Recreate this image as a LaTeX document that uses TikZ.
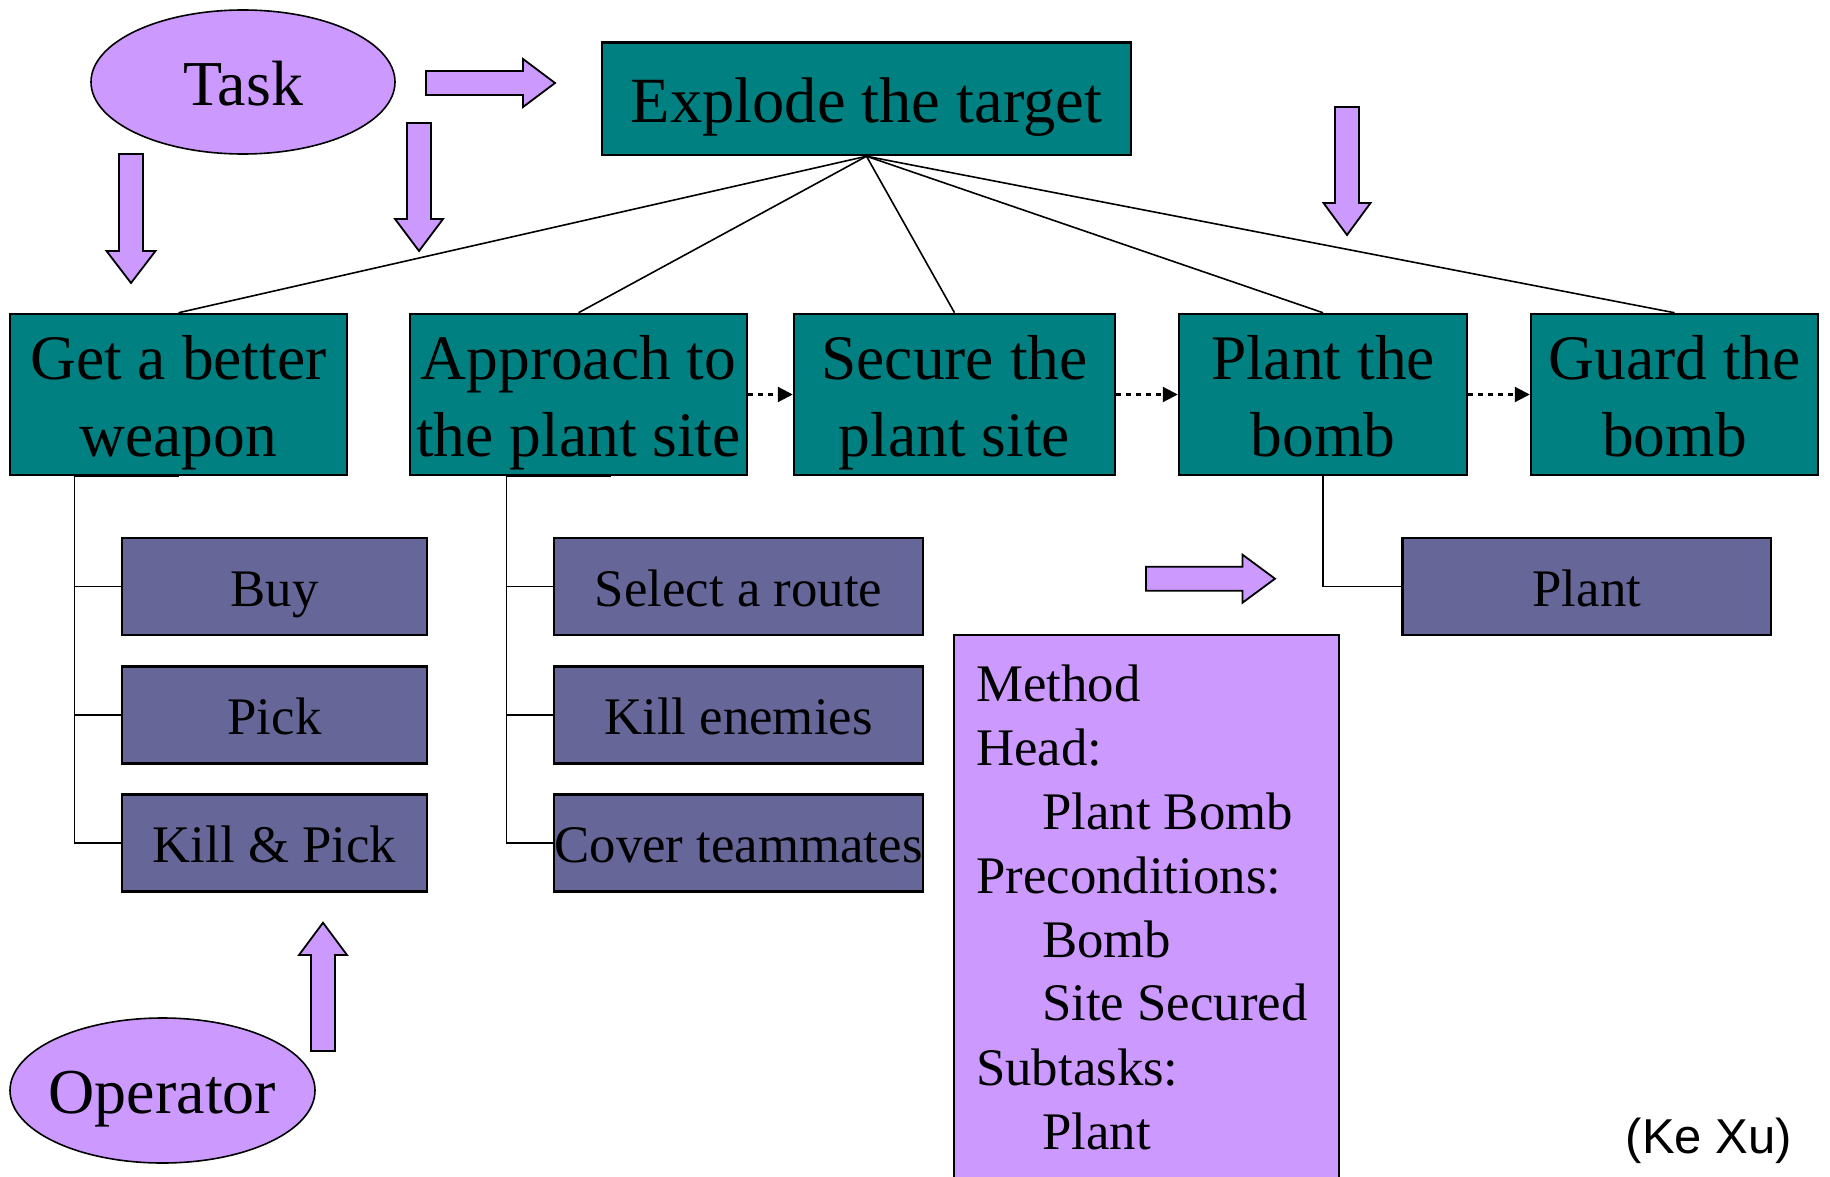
\documentclass[tikz,border=0pt]{standalone}
\usepackage{fontspec}
\setmainfont{Liberation Serif}
\newfontfamily\creditfont{Liberation Sans}
\usetikzlibrary{shapes.geometric,arrows.meta}

\definecolor{goalteal}{RGB}{0,128,128}
\definecolor{opslate}{RGB}{102,102,153}
\definecolor{hintlilac}{RGB}{204,153,255}

% vertical block arrow: centre x, start y, head base y, tip y, half shaft, half head
\newcommand{\vblockarrow}[6]{%
  \draw[blockarrow] (#1-#5,#2) -- (#1+#5,#2) -- (#1+#5,#3) -- (#1+#6,#3) -- (#1,#4)
    -- (#1-#6,#3) -- (#1-#5,#3) -- cycle;}
% horizontal block arrow: centre y, start x, head base x, tip x, half shaft, half head
\newcommand{\hblockarrow}[6]{%
  \draw[blockarrow] (#2,#1-#5) -- (#3,#1-#5) -- (#3,#1-#6) -- (#4,#1) -- (#3,#1+#6)
    -- (#3,#1+#5) -- (#2,#1+#5) -- cycle;}

\tikzset{
  rootbox/.style={draw=black, line width=2.5pt, fill=goalteal, inner sep=0pt,
    minimum width=529pt, minimum height=112.7pt,
    font=\fontsize{64.5}{78}\selectfont, text height=48pt, text depth=0pt},
  goalbox/.style={draw=black, line width=2.5pt, fill=goalteal, inner sep=0pt,
    minimum height=161pt, align=center,
    font=\fontsize{63.5}{76.5}\selectfont, text height=123pt, text depth=0pt},
  opbox/.style={draw=black, line width=2.5pt, fill=opslate, inner sep=0pt,
    minimum height=97pt, font=\fontsize{52.8}{64}\selectfont,
    text height=39pt, text depth=0pt},
  oval/.style={ellipse, draw=black, line width=1.6pt, fill=hintlilac, inner sep=0pt},
  ovaltext/.style={inner sep=0pt, font=\fontsize{64}{77}\selectfont,
    text height=47pt, text depth=0pt},
  methodbox/.style={draw=black, line width=2.5pt, fill=hintlilac, inner sep=0pt,
    minimum width=385pt, minimum height=565pt},
  methodline/.style={anchor=base west, inner sep=0pt, font=\fontsize{52.8}{64}\selectfont},
  blockarrow/.style={draw=black, line width=1.8pt, fill=hintlilac, line join=miter},
  branch/.style={draw=black, line width=1.6pt},
  tree/.style={draw=black, line width=1.6pt},
  seq/.style={draw=black, line width=2.2pt, dash pattern=on 5pt off 5pt,
    -{Triangle[length=15pt,width=15pt]}},
}

\begin{document}
\begin{tikzpicture}[x=1pt,y=-1pt]
\useasboundingbox (0,0) rectangle (1830,1177);
\clip (0,0) rectangle (1830,1177);

% root task and its decomposition
\node[rootbox] (explode) at (866.5,98.65) {Explode the target};

\node[goalbox, minimum width=337pt] (get)       at (178.5,394.5) {Get a better\\weapon};
\node[goalbox, minimum width=337pt] (approach)  at (578.5,394.5) {Approach to\\the plant site};
\node[goalbox, minimum width=321pt] (secure)    at (954.5,394.5) {Secure the\\plant site};
\node[goalbox, minimum width=288pt] (plantbomb) at (1323,394.5)  {Plant the\\bomb};
\node[goalbox, minimum width=287pt] (guard)     at (1674.5,394.5) {Guard the\\bomb};

\foreach \g in {get,approach,secure,plantbomb,guard}
  \draw[branch] (explode.south) -- (\g.north);

\draw[seq] (approach.east) -- (secure.west);
\draw[seq] (secure.east) -- (plantbomb.west);
\draw[seq] (plantbomb.east) -- (guard.west);

% operators
\node[opbox, minimum width=305pt] (buy)      at (274.5,586.5) {Buy};
\node[opbox, minimum width=305pt] (pick)     at (274.5,715)   {Pick};
\node[opbox, minimum width=305pt] (killpick) at (274.5,843)   {Kill \& Pick};

\node[opbox, minimum width=369pt] (route)   at (738.5,586.5) {Select a route};
\node[opbox, minimum width=369pt] (enemies) at (738.5,715)   {Kill enemies};
\node[opbox, minimum width=369pt] (cover)   at (738.5,843)   {Cover teammates};

\node[opbox, minimum width=368.4pt] (plant) at (1586.8,586.5) {Plant};

% org-chart style connectors
\coordinate (gbus) at (74.5,476);
\draw[tree] (get.south |- gbus) -- (gbus) |- (killpick.west);
\draw[tree] (gbus) |- (buy.west);
\draw[tree] (gbus) |- (pick.west);

\coordinate (abus) at (506.5,476);
\coordinate (aend) at (611,476);
\draw[tree] (aend) -- (abus) |- (cover.west);
\draw[tree] (abus) |- (route.west);
\draw[tree] (abus) |- (enemies.west);

\draw[tree] (plantbomb.south) |- (plant.west);

% task and operator ovals
\node[oval, minimum width=304pt, minimum height=144pt,
      label={[ovaltext, name=task-text]center:Task}] (task) at (243,82) {};
\node[oval, minimum width=305pt, minimum height=145pt,
      label={[ovaltext, text height=45pt, name=operator-text]center:Operator}] (operator) at (162.5,1090.5) {};

% method description
\node[methodbox] (method) at (1146.5,917.5) {};
\node[methodline] (m1) at (976,701)  {Method};
\node[methodline] (m2) at (976,765)  {Head:};
\node[methodline] (m3) at (1042,829) {Plant Bomb};
\node[methodline] (m4) at (976,893)  {Preconditions:};
\node[methodline] (m5) at (1042,957) {Bomb};
\node[methodline] (m6) at (1042,1020) {Site Secured};
\node[methodline] (m7) at (976,1085) {Subtasks:};
\node[methodline] (m8) at (1042,1149) {Plant};

% block arrows
\hblockarrow{83}{426}{523}{555}{12}{24}
\vblockarrow{131}{154}{251}{283}{12}{24.5}
\vblockarrow{419}{123}{219}{251}{12}{24}
\vblockarrow{1347}{107}{203}{235}{12}{23.5}
\vblockarrow{323}{1051}{955}{922.7}{12}{24}
\hblockarrow{578.7}{1146}{1242.5}{1275}{12}{24}

\node[font=\creditfont\fontsize{49}{58}\selectfont, anchor=base east, inner sep=0pt]
  (credit) at (1792,1153) {(Ke Xu)};
\end{tikzpicture}
\end{document}
